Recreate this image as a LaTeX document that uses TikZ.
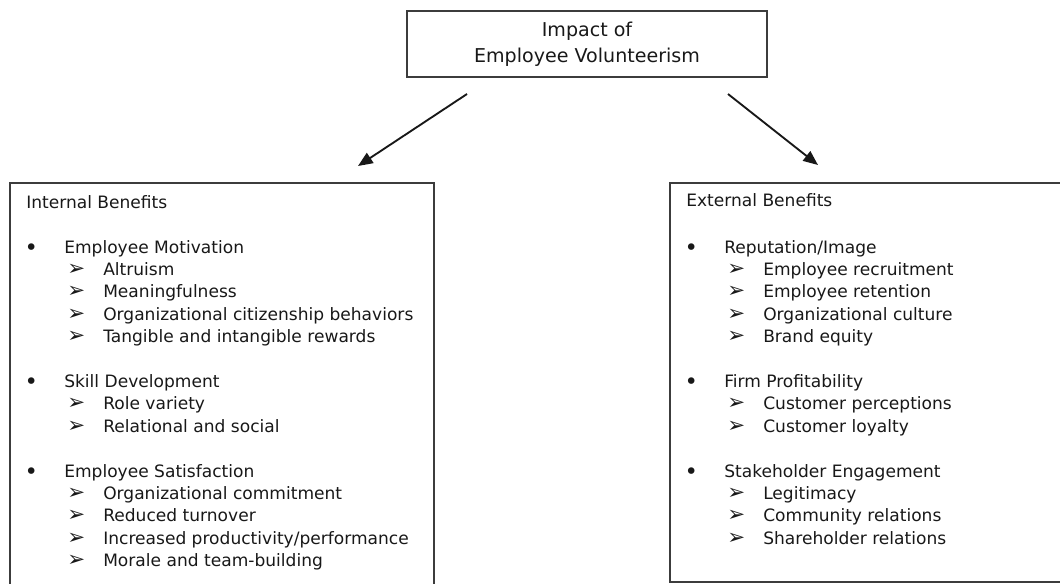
\documentclass[tikz,border=0pt]{standalone}
\usepackage{fontspec}
\setmainfont{DejaVu Sans}
\newfontfamily\dingfont{DejaVu Sans}
\usetikzlibrary{arrows.meta}

\definecolor{boxline}{RGB}{60,60,60}
\definecolor{ink}{RGB}{24,24,24}

% bullet and arrowhead markers of the two list levels
\newcommand{\bul}{\makebox[7.5pt][c]{\fontsize{17}{17}\selectfont\raisebox{-1.8pt}{\textbullet}}\hspace{21pt}}
\newcommand{\arrowitem}{\hspace{30.75pt}\makebox[27pt][l]{\dingfont\fontsize{16}{16}\selectfont\char"27A2}}

\begin{document}
\begin{tikzpicture}[x=0.75pt,y=0.75pt]
\tikzstyle{every node}+=[inner sep=0pt, text=ink, font=\fontsize{12.8}{15}\selectfont]
\tikzstyle{panel}=[draw=boxline, line width=1.2pt]
\tikzstyle{item}=[anchor=base west]
\tikzstyle{arr}=[draw=ink, line width=1.4pt, -{Triangle[length=11pt,width=9pt]}]
\useasboundingbox (0,0) rectangle (1060,-583);
% top box
\node [panel, minimum width=270pt, minimum height=49.5pt, align=center,
  font=\fontsize{14.3}{19.5}\selectfont] (impact) at (587,-44) {Impact of\\Employee Volunteerism};
% the two arrows
\coordinate (lfrom) at (467,-94);
\coordinate (lto) at (358,-166);
\coordinate (rfrom) at (728,-94);
\coordinate (rto) at (818,-165);
\draw [arr] (lfrom) -- (lto);
\draw [arr] (rfrom) -- (rto);
% internal benefits
\node [panel, anchor=north west, minimum width=318pt, minimum height=306pt] (internal) at (9,-182) {};
\node [item] (ihead) at (26,-208) {Internal Benefits};
\node [item] (imot) at (26,-253) {\bul Employee Motivation};
\node [item] (imot1) at (26,-275.4) {\arrowitem Altruism};
\node [item] (imot2) at (26,-297.8) {\arrowitem Meaningfulness};
\node [item] (imot3) at (26,-320.2) {\arrowitem Organizational citizenship behaviors};
\node [item] (imot4) at (26,-342.6) {\arrowitem Tangible and intangible rewards};
\node [item] (iskill) at (26,-387.4) {\bul Skill Development};
\node [item] (iskill1) at (26,-409.8) {\arrowitem Role variety};
\node [item] (iskill2) at (26,-432.2) {\arrowitem Relational and social};
\node [item] (isat) at (26,-477) {\bul Employee Satisfaction};
\node [item] (isat1) at (26,-499.4) {\arrowitem Organizational commitment};
\node [item] (isat2) at (26,-521.8) {\arrowitem Reduced turnover};
\node [item] (isat3) at (26,-544.2) {\arrowitem Increased productivity/performance};
\node [item] (isat4) at (26,-566.6) {\arrowitem Morale and team-building};
% external benefits
\node [panel, anchor=north west, minimum width=296.25pt, minimum height=299.25pt] (external) at (669,-182) {};
\node [item] (ehead) at (686,-206) {External Benefits};
\node [item] (erep) at (686,-253) {\bul Reputation/Image};
\node [item] (erep1) at (686,-275.4) {\arrowitem Employee recruitment};
\node [item] (erep2) at (686,-297.8) {\arrowitem Employee retention};
\node [item] (erep3) at (686,-320.2) {\arrowitem Organizational culture};
\node [item] (erep4) at (686,-342.6) {\arrowitem Brand equity};
\node [item] (eprof) at (686,-387.4) {\bul Firm Profitability};
\node [item] (eprof1) at (686,-409.8) {\arrowitem Customer perceptions};
\node [item] (eprof2) at (686,-432.2) {\arrowitem Customer loyalty};
\node [item] (estake) at (686,-477) {\bul Stakeholder Engagement};
\node [item] (estake1) at (686,-499.4) {\arrowitem Legitimacy};
\node [item] (estake2) at (686,-521.8) {\arrowitem Community relations};
\node [item] (estake3) at (686,-544.2) {\arrowitem Shareholder relations};
\end{tikzpicture}
\end{document}
